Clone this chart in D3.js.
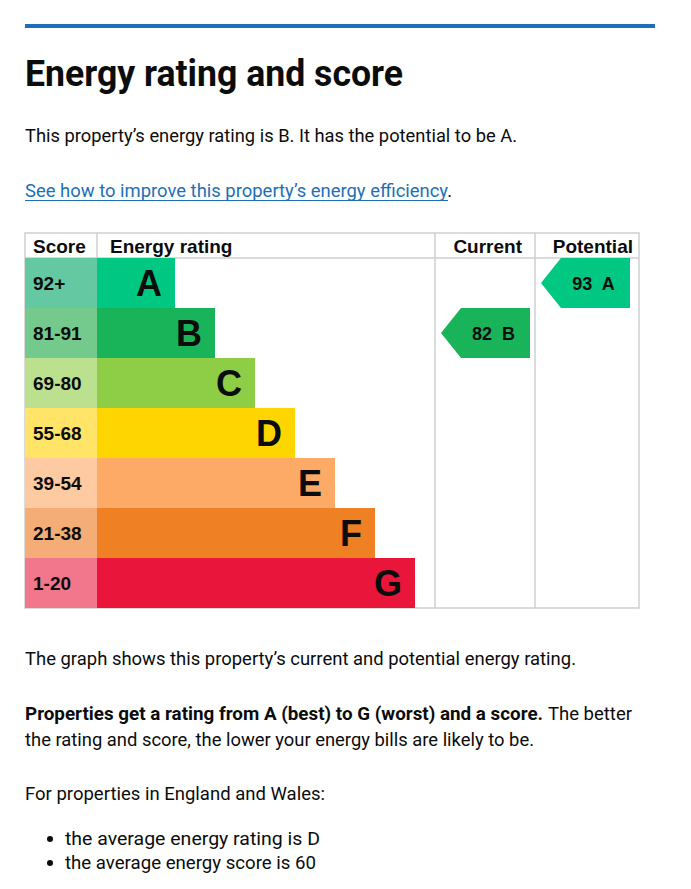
<!DOCTYPE html>
<html>
<head>
<meta charset="utf-8">
<script src="https://cdn.jsdelivr.net/npm/d3@7"></script>
<style>
  html, body { margin: 0; padding: 0; background: #fff; }
  svg { display: block; }
  .page { font-family: Roboto, "Noto Sans", sans-serif; fill: #0b0c0c; }
  .tbl { font-family: Arial, "Liberation Sans", sans-serif; font-weight: bold; fill: #0b0c0c; }
</style>
</head>
<body>
<div id="chart"></div>
<script>
// rating bands, best to worst
var bands = ["A", "B", "C", "D", "E", "F", "G"];
var scoreRanges = ["92+", "81-91", "69-80", "55-68", "39-54", "21-38", "1-20"];
var bandColors = ["#00c781", "#19b459", "#8dce46", "#ffd500", "#fcaa65", "#ef8023", "#e9153b"];
var scoreColors = ["#64c8a2", "#74c98c", "#bbe18f", "#ffe467", "#fdcaa1", "#f4ad76", "#f2778d"];
var columns = ["Score", "Energy rating", "Current", "Potential"];

var currentRating = { score: 82, band: "B" };
var potentialRating = { score: 93, band: "A" };

var width = 691, height = 889;

var svg = d3.select("#chart").append("svg")
    .attr("width", width)
    .attr("height", height);

// ---- page text above the chart
svg.append("rect")
    .attr("x", 25).attr("y", 24)
    .attr("width", 630).attr("height", 4)
    .attr("fill", "#1d70b8");

svg.append("text").attr("class", "page")
    .attr("x", 25).attr("y", 86)
    .attr("font-size", 36).attr("font-weight", 700)
    .attr("textLength", 378).attr("lengthAdjust", "spacingAndGlyphs")
    .text("Energy rating and score");

svg.append("text").attr("class", "page")
    .attr("x", 25).attr("y", 142)
    .attr("font-size", 19)
    .attr("textLength", 492).attr("lengthAdjust", "spacingAndGlyphs")
    .text("This property\u2019s energy rating is " + currentRating.band + ". It has the potential to be " + potentialRating.band + ".");

// link line, with its full stop in the same text element
var link = svg.append("text").attr("class", "page")
    .attr("x", 25).attr("y", 197)
    .attr("font-size", 19)
    .attr("textLength", 427).attr("lengthAdjust", "spacingAndGlyphs");
link.append("tspan")
    .style("fill", "#1d70b8")
    .text("See how to improve this property\u2019s energy efficiency");
link.append("tspan")
    .text(".");
svg.append("line")
    .attr("x1", 25).attr("x2", 448)
    .attr("y1", 200.5).attr("y2", 200.5)
    .attr("stroke", "#1d70b8").attr("stroke-width", 1);

// ---- the rating table
var tableLeft = 25, tableRight = 639, tableTop = 233, headerBottom = 258, tableBottom = 608;
var colEdges = [25, 97, 435, 535, 639];

var y = d3.scaleBand()
    .domain(bands)
    .range([headerBottom, tableBottom])
    .paddingInner(0);

// bar end for each band: A is shortest, G longest
var barEnd = d3.scaleLinear()
    .domain([0, bands.length - 1])
    .range([175, 415]);

var grid = svg.append("g").attr("stroke", "#cfcfcf").attr("stroke-width", 1.5).attr("fill", "none");
grid.append("rect")
    .attr("x", tableLeft).attr("y", tableTop)
    .attr("width", tableRight - tableLeft).attr("height", tableBottom - tableTop);
grid.append("line")
    .attr("x1", tableLeft).attr("x2", tableRight)
    .attr("y1", headerBottom).attr("y2", headerBottom);
grid.selectAll(".vline")
    .data(colEdges.slice(1, 4))
    .enter().append("line")
    .attr("class", "vline")
    .attr("x1", function(d) { return d; }).attr("x2", function(d) { return d; })
    .attr("y1", tableTop).attr("y2", tableBottom);

// header labels
svg.append("text").attr("class", "tbl").attr("font-size", 19)
    .attr("x", 33).attr("y", 253).text(columns[0]);
svg.append("text").attr("class", "tbl").attr("font-size", 19)
    .attr("x", 110).attr("y", 253).text(columns[1]);
svg.append("text").attr("class", "tbl").attr("font-size", 19)
    .attr("x", 522).attr("y", 253).attr("text-anchor", "end").text(columns[2]);
svg.append("text").attr("class", "tbl").attr("font-size", 19)
    .attr("x", 633).attr("y", 253).attr("text-anchor", "end").text(columns[3]);

var rows = svg.selectAll(".row")
    .data(bands)
    .enter().append("g")
    .attr("class", "row")
    .attr("transform", function(d) { return "translate(0," + y(d) + ")"; });

rows.append("rect")
    .attr("x", colEdges[0])
    .attr("width", colEdges[1] - colEdges[0])
    .attr("height", y.bandwidth())
    .attr("fill", function(d, i) { return scoreColors[i]; });

rows.append("rect")
    .attr("x", colEdges[1])
    .attr("width", function(d, i) { return barEnd(i) - colEdges[1]; })
    .attr("height", y.bandwidth())
    .attr("fill", function(d, i) { return bandColors[i]; });

rows.append("text").attr("class", "tbl")
    .attr("x", 33)
    .attr("y", y.bandwidth() / 2 + 7)
    .attr("font-size", 19)
    .text(function(d, i) { return scoreRanges[i]; });

rows.append("text").attr("class", "tbl")
    .attr("x", function(d, i) { return barEnd(i) - 13; })
    .attr("y", y.bandwidth() / 2 + 13)
    .attr("font-size", 36)
    .attr("text-anchor", "end")
    .text(function(d) { return d; });

// arrows for current and potential
function drawArrow(rating, colIndex) {
  var i = bands.indexOf(rating.band);
  var x0 = colEdges[colIndex] + 6, x1 = x0 + 89;
  var top = y(rating.band), bot = top + y.bandwidth(), mid = top + y.bandwidth() / 2;
  var tip = 20;
  svg.append("path")
      .attr("d", "M" + x0 + "," + mid + "L" + (x0 + tip) + "," + top + "L" + x1 + "," + top +
                 "L" + x1 + "," + bot + "L" + (x0 + tip) + "," + bot + "Z")
      .attr("fill", bandColors[i]);
  svg.append("text").attr("class", "tbl")
      .attr("x", (x0 + tip + x1) / 2 - 2)
      .attr("y", mid + 6.5)
      .attr("font-size", 18)
      .attr("text-anchor", "middle")
      .style("white-space", "pre")
      .text(rating.score + "  " + rating.band);
}
drawArrow(currentRating, 2);
drawArrow(potentialRating, 3);

// ---- page text below the chart
svg.append("text").attr("class", "page")
    .attr("x", 25).attr("y", 665)
    .attr("font-size", 19)
    .attr("textLength", 551).attr("lengthAdjust", "spacingAndGlyphs")
    .text("The graph shows this property\u2019s current and potential energy rating.");

svg.append("text").attr("class", "page")
    .attr("x", 25).attr("y", 720)
    .attr("font-size", 19).attr("font-weight", 700)
    .attr("textLength", 518).attr("lengthAdjust", "spacingAndGlyphs")
    .text("Properties get a rating from A (best) to G (worst) and a score.");
svg.append("text").attr("class", "page")
    .attr("x", 548).attr("y", 720)
    .attr("font-size", 19)
    .attr("textLength", 84).attr("lengthAdjust", "spacingAndGlyphs")
    .text("The better");
svg.append("text").attr("class", "page")
    .attr("x", 25).attr("y", 746)
    .attr("font-size", 19)
    .attr("textLength", 509).attr("lengthAdjust", "spacingAndGlyphs")
    .text("the rating and score, the lower your energy bills are likely to be.");

svg.append("text").attr("class", "page")
    .attr("x", 25).attr("y", 800)
    .attr("font-size", 19)
    .attr("textLength", 300).attr("lengthAdjust", "spacingAndGlyphs")
    .text("For properties in England and Wales:");

var bullets = ["the average energy rating is D", "the average energy score is 60"];
var bulletWidths = [255, 251];
var bl = svg.selectAll(".bullet")
    .data(bullets)
    .enter().append("g")
    .attr("class", "bullet")
    .attr("transform", function(d, i) { return "translate(0," + (845 + i * 24) + ")"; });
bl.append("circle")
    .attr("cx", 50).attr("cy", -6).attr("r", 3)
    .attr("fill", "#0b0c0c");
bl.append("text").attr("class", "page")
    .attr("x", 65)
    .attr("font-size", 19)
    .attr("textLength", function(d, i) { return bulletWidths[i]; })
    .attr("lengthAdjust", "spacingAndGlyphs")
    .text(function(d) { return d; });
</script>
</body>
</html>
